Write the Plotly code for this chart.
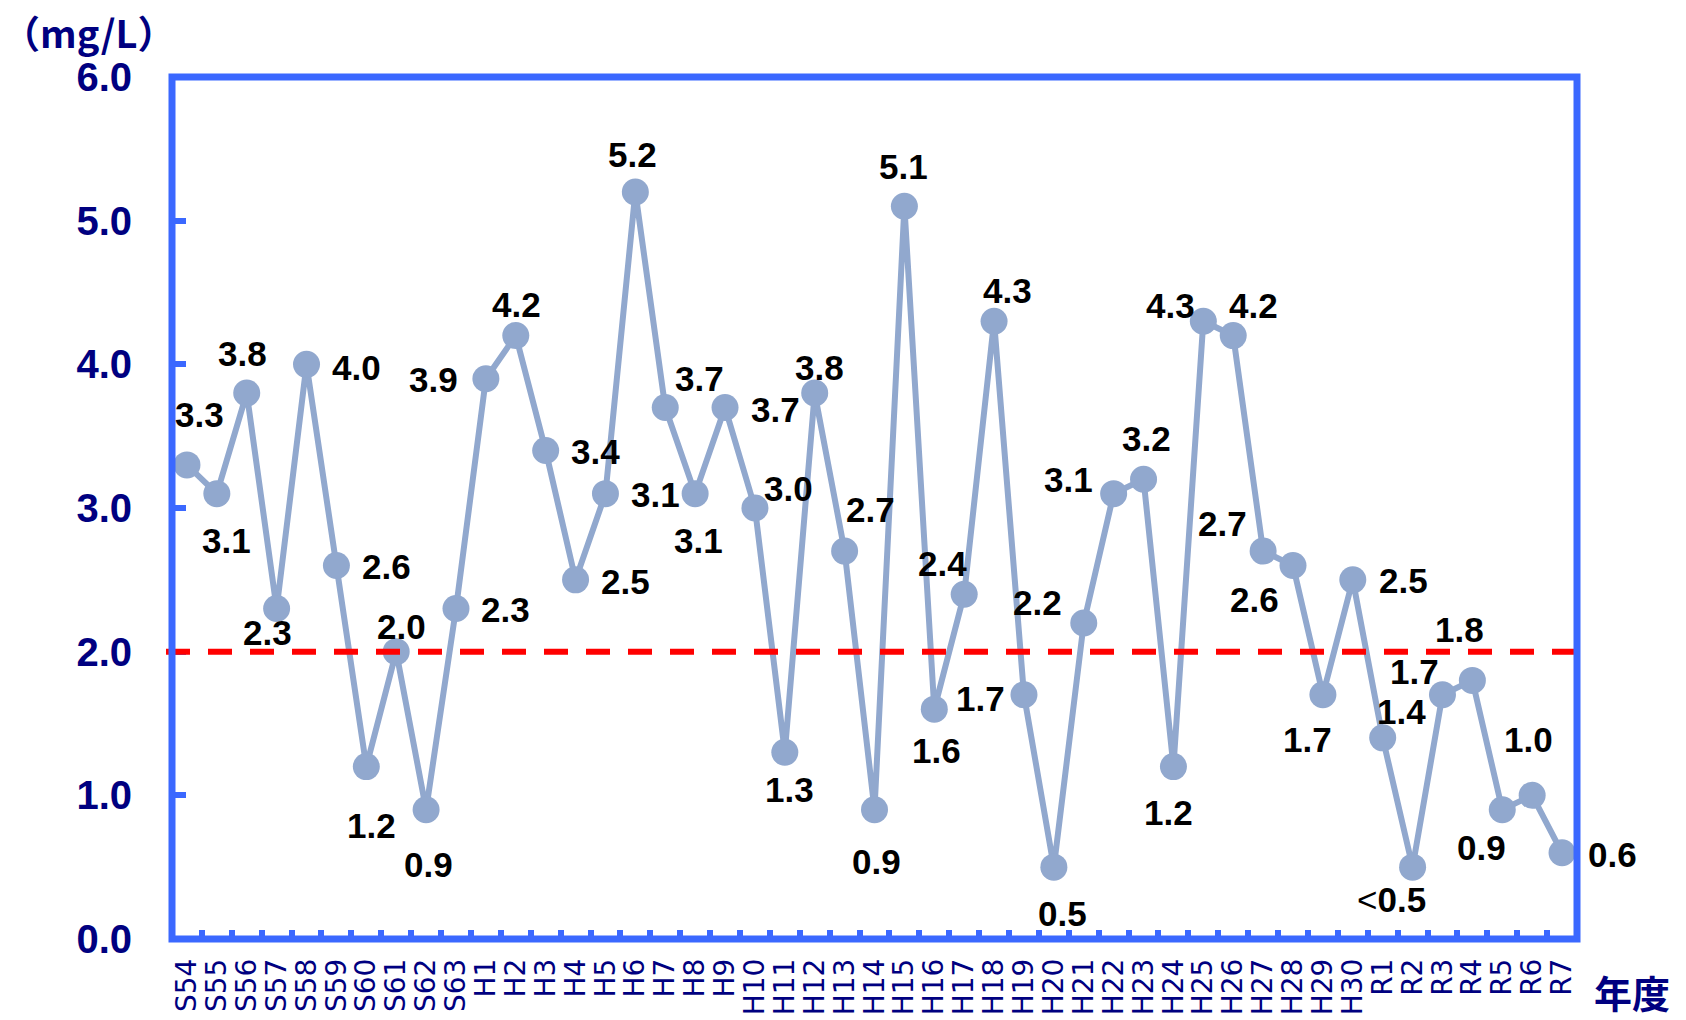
import plotly.graph_objects as go

# Fiscal years (Showa S, Heisei H, Reiwa R)
years = (["S54", "S55", "S56", "S57", "S58", "S59", "S60", "S61", "S62", "S63"]
         + [f"H{i}" for i in range(1, 31)]
         + [f"R{i}" for i in range(1, 8)])

# Annual concentration (mg/L)
values = [3.3, 3.1, 3.8, 2.3, 4.0, 2.6, 1.2, 2.0, 0.9, 2.3,
          3.9, 4.2, 3.4, 2.5, 3.1, 5.2, 3.7, 3.1, 3.7, 3.0,
          1.3, 3.8, 2.7, 0.9, 5.1, 1.6, 2.4, 4.3, 1.7, 0.5,
          2.2, 3.1, 3.2, 1.2, 4.3, 4.2, 2.7, 2.6, 1.7, 2.5,
          1.4, 0.5, 1.7, 1.8, 0.9, 1.0, 0.6]

# Years reported as below the quantification limit
below_limit = ["R2"]

# Reference level drawn as the dashed line
standard = 2.0

y_ticks = [0, 1, 2, 3, 4, 5, 6]

# Pixel offsets (dx right, dy down) of each value label from its point
label_offsets = [
    (13, -50), (10, 47), (-4, -40), (-9, 24), (50, 3), (50, 1), (5, 59),
    (5, -25), (2, 55), (50, 1), (-52, 1), (1, -31), (50, 1), (50, 2),
    (50, 1), (-3, -37), (34, -29), (3, 47), (50, 2), (34, -20), (5, 37),
    (5, -26), (26, -42), (2, 52), (-1, -40), (2, 41), (-22, -31), (13, -31),
    (-43, 4), (9, 46), (-46, -20), (-45, -14), (3, -41), (-5, 46), (-33, -16),
    (20, -30), (-41, -28), (-39, 34), (-15, 45), (51, 1), (19, -26), (-21, 32),
    (-28, -23), (-13, -51), (-21, 38), (-4, -56), (50, 2),
]

FRAME = "#3B68FF"
NAVY = "#000080"
SERIES = "#91A8CE"

W, H = 1686, 1020
ML, MR, MT, MB = 172, 109, 77, 81
plot_w = W - ML - MR
plot_h = H - MT - MB


def px_to_paper(px, py):
    """Convert a canvas pixel position to plot-area paper coordinates."""
    return (px - ML) / plot_w, (H - py - MB) / plot_h


fig = go.Figure()

fig.add_trace(go.Scatter(
    x=years, y=values,
    mode="lines+markers",
    line=dict(color=SERIES, width=6),
    marker=dict(color=SERIES, size=27),
    cliponaxis=False,
    hoverinfo="skip",
    showlegend=False,
))

annotations = []
for yr, v, (dx, dy) in zip(years, values, label_offsets):
    txt = f"{v:.1f}"
    if yr in below_limit:
        txt = "<span style='font-weight:normal'>&lt;</span>" + txt
    annotations.append(dict(
        x=yr, y=v, xref="x", yref="y", text=txt, showarrow=False,
        xanchor="center", yanchor="middle", xshift=dx, yshift=-dy,
        font=dict(family="Liberation Sans, Arial, sans-serif", size=35,
                  color="black", weight="bold"),
    ))

# Unit label and axis title
ux, uy = px_to_paper(88, 31)
annotations.append(dict(
    x=ux, y=uy, xref="paper", yref="paper",
    text="（mg/L）", showarrow=False, xanchor="center", yanchor="middle",
    font=dict(family="Noto Sans CJK JP", size=38, color=NAVY, weight="bold"),
))
tx, ty = px_to_paper(1632, 991)
annotations.append(dict(
    x=tx, y=ty, xref="paper", yref="paper",
    text="年度", showarrow=False, xanchor="center", yanchor="middle",
    font=dict(family="Noto Sans CJK JP", size=38, color=NAVY, weight="bold"),
))

shapes = [
    # dashed reference line
    dict(type="line", xref="paper", yref="y",
         x0=(166 - ML) / plot_w, x1=1, y0=standard, y1=standard,
         line=dict(color="#FF0000", width=6, dash="24px,18px"), layer="above"),
    # plot frame
    dict(type="rect", xref="paper", yref="paper", x0=0, x1=1, y0=0, y1=1,
         line=dict(color=FRAME, width=7), layer="above"),
]

fig.update_layout(
    width=W, height=H,
    margin=dict(l=ML, r=MR, t=MT, b=MB, pad=0),
    paper_bgcolor="white", plot_bgcolor="white",
    annotations=annotations,
    shapes=shapes,
    xaxis=dict(
        type="category", range=[-0.5, len(years) - 0.5],
        tickmode="array", tickvals=years, ticktext=years,
        tickangle=-90, ticks="inside", tickson="boundaries",
        ticklen=9, tickwidth=6, tickcolor=FRAME,
        showline=False, showgrid=False, zeroline=False,
        tickfont=dict(family="DejaVu Sans", size=28, color=NAVY),
        ticklabelstandoff=13, automargin=False,
    ),
    yaxis=dict(
        range=[0, 6], tickvals=y_ticks, ticktext=[f"{t:.1f}" for t in y_ticks],
        ticks="inside", ticklen=14, tickwidth=6, tickcolor=FRAME,
        showline=False, showgrid=False, zeroline=False,
        tickfont=dict(family="Liberation Sans, Arial, sans-serif", size=40,
                      color=NAVY, weight="bold"),
        ticklabelstandoff=39, automargin=False,
    ),
)

fig.write_html("out.html")
